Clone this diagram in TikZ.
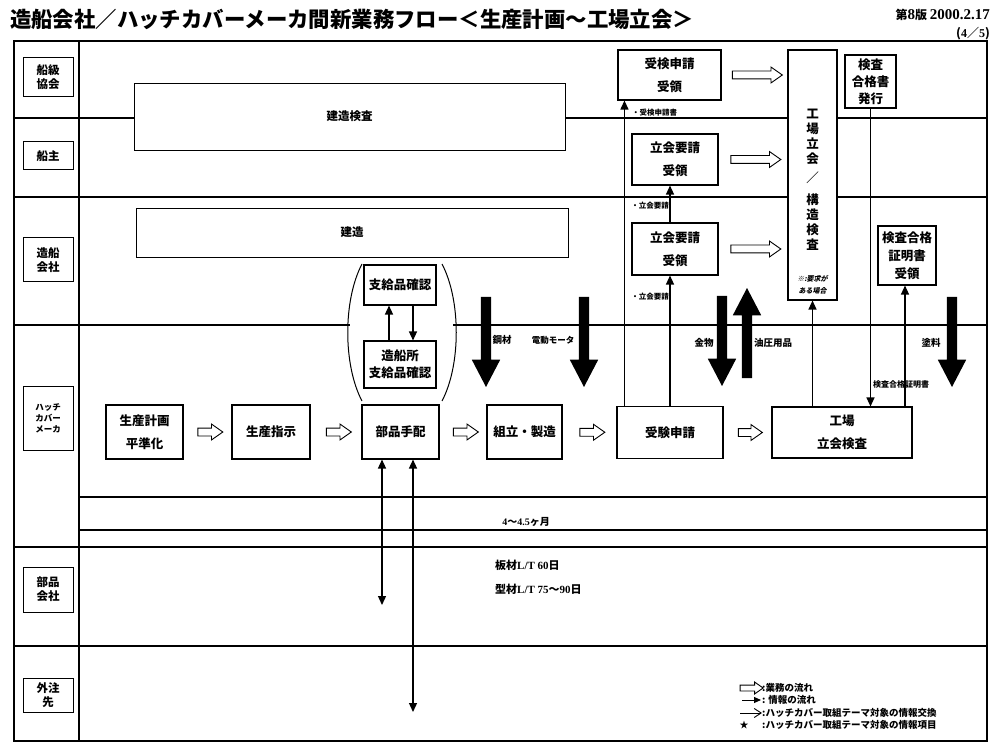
\documentclass[tikz,border=0pt]{standalone}
\usepackage{fontspec}
\setmainfont{Noto Sans CJK JP}
\newfontfamily\lat{Liberation Serif}
\newfontfamily\jpslant[FakeSlant=0.2]{Noto Sans CJK JP}
\usetikzlibrary{arrows.meta, shapes.arrows, calc, positioning}
\tikzset{
  box/.style={rectangle, draw, fill=white, line width=1.1pt, align=center,
    inner sep=1pt, font=\fontsize{12.5}{23}\selectfont\bfseries},
  lanebox/.style={rectangle, draw, fill=white, line width=1pt, align=center,
    minimum width=50pt, inner sep=1pt, font=\fontsize{11.5}{14}\selectfont\bfseries},
  widebox/.style={rectangle, draw, fill=white, line width=0.9pt,
    font=\fontsize{11.5}{14}\selectfont\bfseries},
  flowarr/.style={single arrow, draw, fill=white, line width=0.9pt, inner sep=3.5pt,
    single arrow head extend=4pt, single arrow tip angle=70, minimum height=#1},
  bigarr/.style={single arrow, fill=black, inner sep=5pt, single arrow head extend=9pt,
    single arrow tip angle=55, minimum height=90pt},
  info/.style={line width=1.3pt, ->, >={Triangle[length=9pt,width=8pt]}},
  infolbl/.style={inner sep=0pt, font=\fontsize{7.5}{9}\selectfont\bfseries},
  matlbl/.style={inner sep=0pt, font=\fontsize{9.5}{11}\selectfont\bfseries},
  legtxt/.style={anchor=west, inner sep=0pt, font=\fontsize{9.5}{11}\selectfont\bfseries},
  lane/.style={line width=1.2pt}
}

\begin{document}
\begin{tikzpicture}[x=1pt, y=-1pt]
  \useasboundingbox (0,0) rectangle (1002,754);

  % heading
  \node[anchor=west, inner sep=0pt, font=\fontsize{21.4}{24}\selectfont\bfseries] (title) at (10,19)
    {造船会社／ハッチカバーメーカ間新業務フロー＜生産計画～工場立会＞};
  \node[anchor=east, inner sep=0pt, font=\fontsize{12}{14}\selectfont\bfseries] (version) at (990,15)
    {第{\lat\fontsize{15}{16}\selectfont 8}版 {\lat\fontsize{15}{16}\selectfont 2000.2.17}};
  \node[anchor=east, inner sep=0pt, font=\fontsize{12}{14}\selectfont\bfseries] (page) at (990,34)
    {({\lat 4}／{\lat 5})};

  % frame and lanes
  \draw[line width=1.6pt] (14,41) rectangle (987,741);
  \draw[line width=1.4pt] (79,41) -- (79,741);
  \foreach \y in {118,197,547,646}
    \draw[lane] (14,\y) -- (987,\y);
  \draw[lane] (14,325) -- (350,325);
  \draw[lane] (453,325) -- (987,325);
  \foreach \y in {497,530}
    \draw[lane] (79,\y) -- (987,\y);

  \node[lanebox, minimum height=39pt] (lclass) at (48,77.5) {船級\\協会};
  \node[lanebox, minimum height=28pt] (lowner) at (48,156) {船主};
  \node[lanebox, minimum height=44pt] (lyard) at (48,260) {造船\\会社};
  \node[lanebox, minimum height=64pt, font=\fontsize{8.5}{11}\selectfont\bfseries] (lmaker) at (48,418) {ハッチ\\カバー\\メーカ};
  \node[lanebox, minimum height=45pt] (lparts) at (48,589.5) {部品\\会社};
  \node[lanebox, minimum height=34pt] (lout) at (48,695) {外注\\先};

  % long bars
  \node[widebox, minimum width=431pt, minimum height=67pt] (survey) at (349.5,116.5) {建造検査};
  \node[widebox, minimum width=432pt, minimum height=49pt] (build) at (352,232.5) {建造};

  % maker flow
  \node[box, minimum width=77pt, minimum height=54pt] (plan) at (144.5,432) {生産計画\\平準化};
  \node[box, minimum width=78pt, minimum height=54pt] (order) at (271,432) {生産指示};
  \node[box, minimum width=77pt, minimum height=54pt] (parts) at (400.5,432) {部品手配};
  \node[box, minimum width=75pt, minimum height=54pt] (assy) at (524.5,432) {組立・製造};
  \node[box, minimum width=106pt, minimum height=52pt] (apply) at (670,432.5) {受験申請};
  \node[box, minimum width=140pt, minimum height=51pt] (insp) at (842,432.5) {工場\\立会検査};

  \node[box, minimum width=72pt, minimum height=40pt] (supply) at (400,285) {支給品確認};
  \node[box, minimum width=72pt, minimum height=47pt, font=\fontsize{12.5}{17}\selectfont\bfseries] (yardchk) at (400,364.5) {造船所\\支給品確認};
  \draw[line width=1pt] (362,264) .. controls (343,300) and (343,365) .. (362,401);
  \draw[line width=1pt] (442,264) .. controls (461,300) and (461,365) .. (442,401);

  % owner / class side
  \node[box, minimum width=103pt, minimum height=50pt] (rcvapp) at (669.5,75) {受検申請\\受領};
  \node[box, minimum width=86pt, minimum height=51pt] (rcvreq1) at (675,159.5) {立会要請\\受領};
  \node[box, minimum width=86pt, minimum height=52pt] (rcvreq2) at (675,249) {立会要請\\受領};
  \node[box, minimum width=49pt, minimum height=250pt] (witness) at (812.5,175) {};
  \node[inner sep=0pt, align=center, font=\fontsize{12.5}{15}\selectfont\bfseries] (witnesstxt) at (812.5,180)
    {工\\場\\立\\会\\[4pt]／\\[7pt]構\\造\\検\\査};
  \node[inner sep=0pt, align=center, font=\fontsize{7}{12}\selectfont\bfseries\jpslant] (witnessnote) at (812.5,285)
    {※:要求が\\ある場合};
  \node[box, minimum width=51pt, minimum height=53pt, font=\fontsize{12.5}{17}\selectfont\bfseries] (cert) at (870.5,81.5) {検査\\合格書\\発行};
  \node[box, minimum width=58pt, minimum height=59pt, font=\fontsize{12.5}{18}\selectfont\bfseries] (rcvcert) at (907,255.5) {検査合格\\証明書\\受領};

  % business flow
  \node[flowarr=25pt] at ($(plan.east)!0.5!(order.west)$) {};
  \node[flowarr=25pt] at ($(order.east)!0.5!(parts.west)$) {};
  \node[flowarr=25pt] at ($(parts.east)!0.5!(assy.west)$) {};
  \node[flowarr=25pt] at ($(assy.east)!0.5!(apply.west)$) {};
  \node[flowarr=24pt] at ($(apply.east)!0.5!(insp.west)$) {};
  \node[flowarr=50pt] at ($(rcvapp.east)!0.5!(rcvapp.east -| witness.west)$) {};
  \node[flowarr=50pt] at ($(rcvreq1.east)!0.5!(rcvreq1.east -| witness.west)$) {};
  \node[flowarr=50pt] at ($(rcvreq2.east)!0.5!(rcvreq2.east -| witness.west)$) {};

  % information flow
  \draw[info] ([xshift=8pt]apply.north west) -- ([xshift=8pt]apply.north west |- rcvapp.south);
  \draw[info] (apply.north) -- (apply.north |- rcvreq2.south);
  \draw[info] (apply.north |- rcvreq2.north) -- (apply.north |- rcvreq1.south);
  \node[infolbl, anchor=west] (lblapp) at (632,113) {・受検申請書};
  \node[infolbl, anchor=east] (lblreq1) at (669,206) {・立会要請};
  \node[infolbl, anchor=east] (lblreq2) at (669,297) {・立会要請};
  \draw[info] (insp.north -| witness.south) -- (witness.south);
  \draw[info] (cert.south) -- (cert.south |- insp.north);
  \draw[info] ([xshift=-2pt]insp.north -| rcvcert.south) -- ([xshift=-2pt]rcvcert.south);
  \node[infolbl, anchor=west, font=\fontsize{8}{9}\selectfont\bfseries] (lblcert) at (873,384) {検査合格証明書};
  \draw[info] ([xshift=-11pt]yardchk.north) -- ([xshift=-11pt]supply.south);
  \draw[info] ([xshift=13pt]supply.south) -- ([xshift=13pt]yardchk.north);

  \coordinate (partsend) at (382,605);
  \coordinate (outend) at (413,712);
  \draw[info, <->] ([xshift=-18.5pt]parts.south) -- (partsend);
  \draw[info, <->] ([xshift=12.5pt]parts.south) -- (outend);

  % materials
  \node[matlbl] (steel) at (502,340) {鋼材};
  \node[matlbl, font=\fontsize{8.5}{10}\selectfont\bfseries] (motor) at (553,340) {電動モータ};
  \node[matlbl] (hardware) at (704,343) {金物};
  \node[matlbl] (hydraulic) at (773,343) {油圧用品};
  \node[matlbl] (paint) at (931,343) {塗料};
  \node[bigarr, rotate=-90] (steelarr) at (486,337) {};
  \node[bigarr, rotate=-90] (motorarr) at (584,337) {};
  \node[bigarr, rotate=-90] (hardwarearr) at (722,336) {};
  \node[bigarr, rotate=90] (hydraulicarr) at (747,338) {};
  \node[bigarr, rotate=-90] (paintarr) at (952,337) {};

  % lead times
  \node[inner sep=0pt, font=\fontsize{10}{12}\selectfont\bfseries] (term) at (526,522) {{\lat 4}～{\lat 4.5}ヶ月};
  \node[anchor=west, inner sep=0pt, font=\fontsize{11}{13}\selectfont\bfseries] (ltplate) at (495,565) {板材{\lat L/T 60}日};
  \node[anchor=west, inner sep=0pt, font=\fontsize{11}{13}\selectfont\bfseries] (ltshape) at (495,589) {型材{\lat L/T 75}～{\lat 90}日};

  % legend
  \node[flowarr=23pt, inner sep=2.5pt, single arrow head extend=3pt] (legflow) at (749.5,688) {};
  \node[legtxt] (legflowtxt) at (762,688) {:業務の流れ};
  \coordinate (leginfoa) at (742,700);
  \coordinate (leginfob) at (761,700);
  \draw[line width=1pt, -{Triangle[length=7pt,width=6pt]}] (leginfoa) -- (leginfob);
  \node[legtxt] (leginfotxt) at (762,700) {: 情報の流れ};
  \coordinate (legxa) at (740,713);
  \coordinate (legxb) at (762,713);
  \draw[line width=0.9pt, -{Straight Barb[length=7pt,width=9pt]}] (legxa) -- (legxb);
  \node[legtxt] (legxtxt) at (762,713) {:ハッチカバー取組テーマ対象の情報交換};
  \node[inner sep=0pt, font=\fontsize{9}{10}\selectfont] (legstar) at (744,725) {★};
  \node[legtxt] (legstartxt) at (762,725) {:ハッチカバー取組テーマ対象の情報項目};
\end{tikzpicture}
\end{document}
